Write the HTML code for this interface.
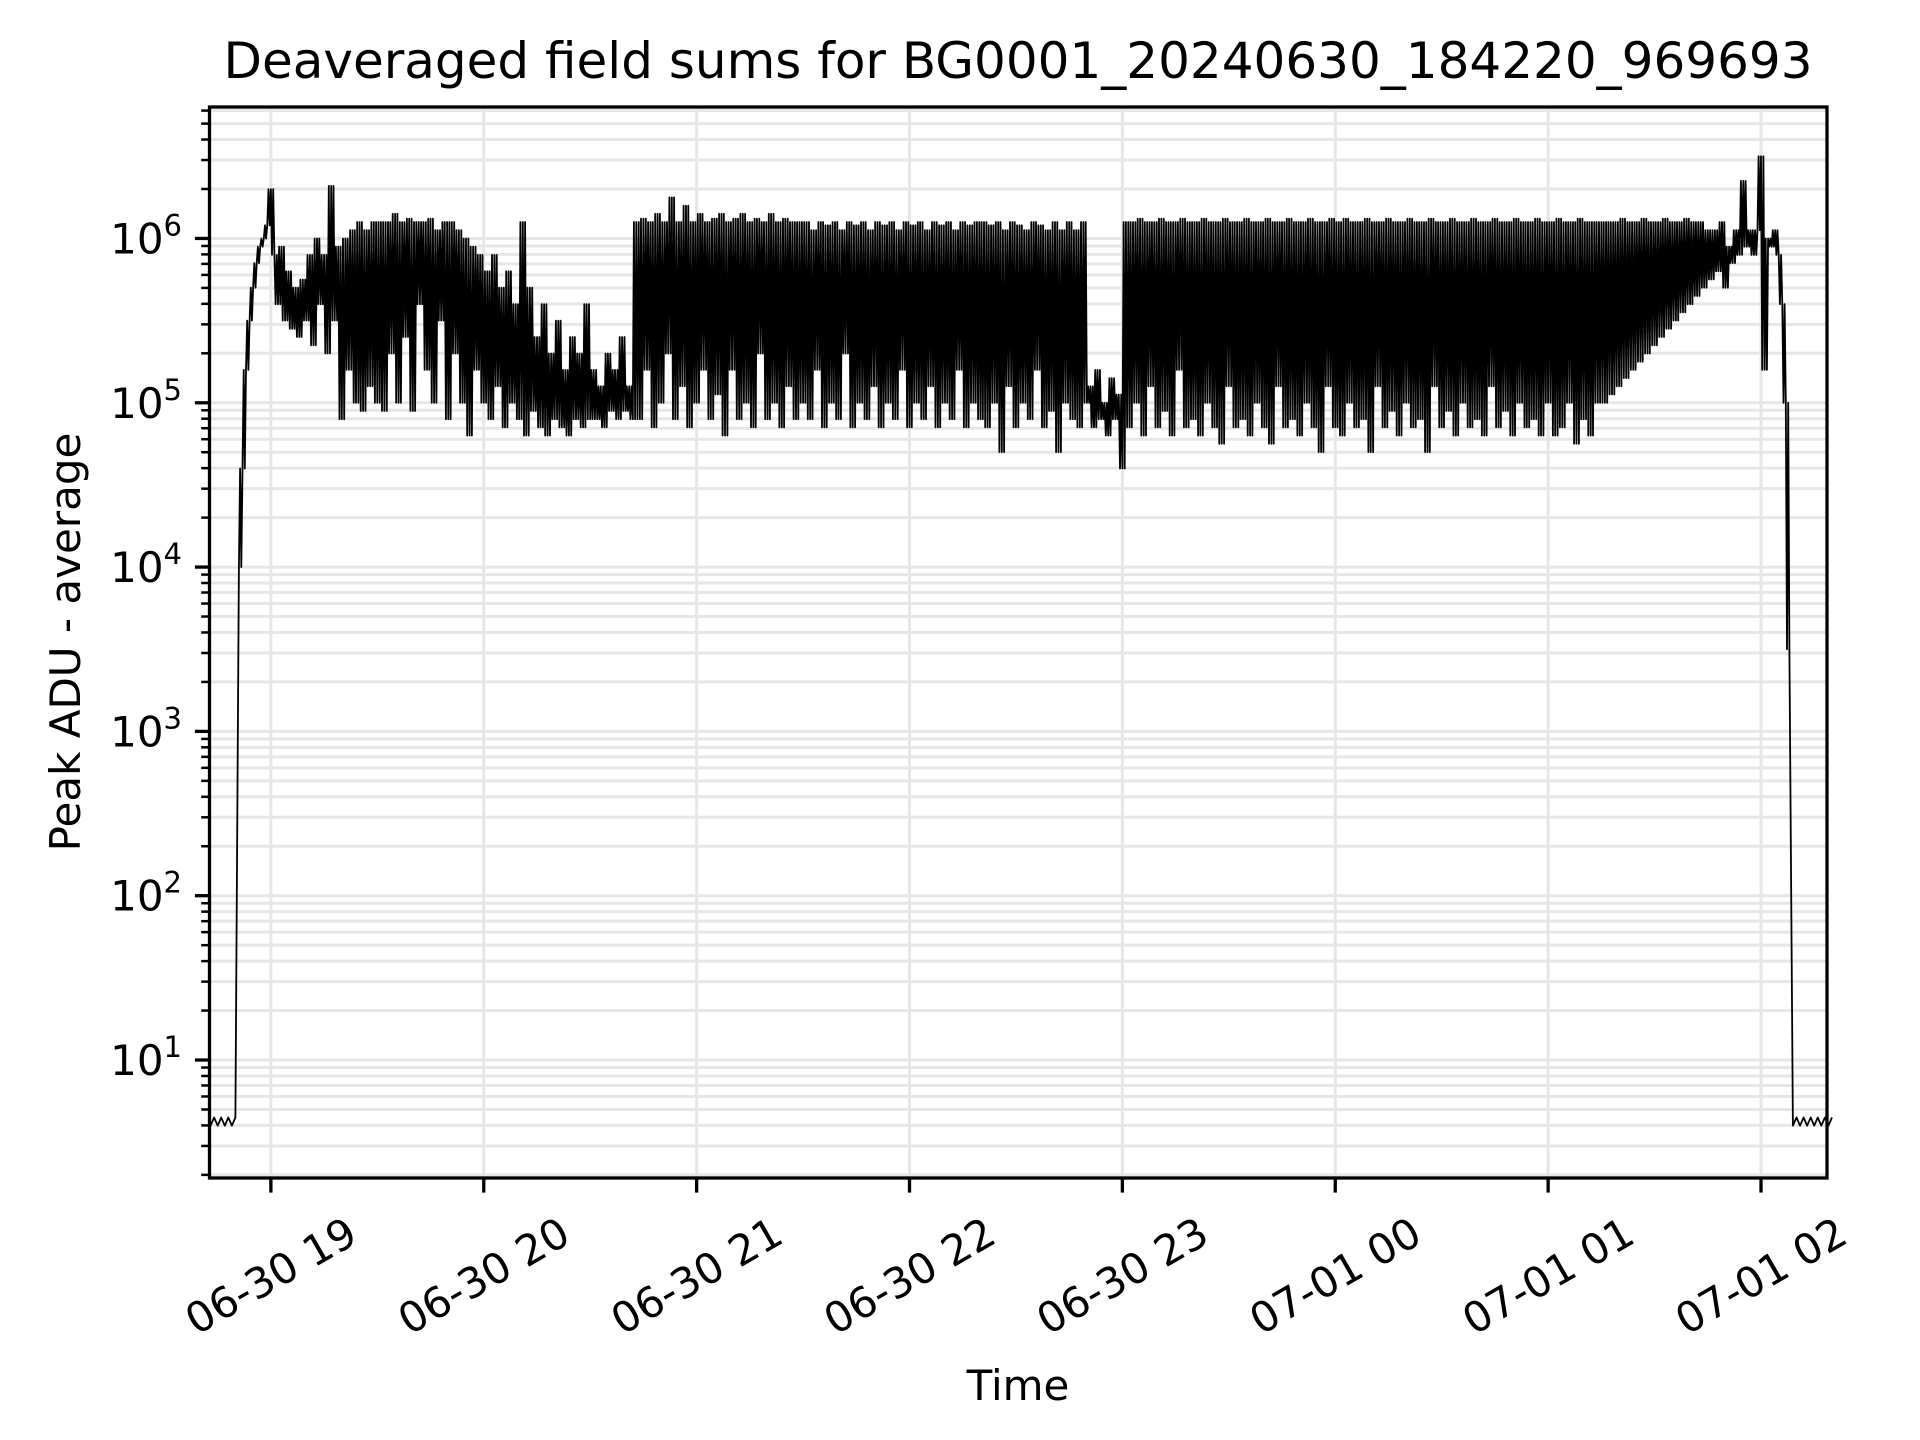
<!DOCTYPE html>
<html><head><meta charset="utf-8"><style>
html,body{margin:0;padding:0;background:#fff;}
svg{display:block;font-family:"DejaVu Sans","Liberation Sans",sans-serif;}
</style></head><body>
<svg id="chart" width="1920" height="1440" viewBox="0 0 1920 1440" xmlns="http://www.w3.org/2000/svg">
<rect x="0" y="0" width="1920" height="1440" fill="#fff"/>
<text x="1018" y="78" font-size="50" text-anchor="middle" fill="#000">Deaveraged field sums for BG0001_20240630_184220_969693</text>
<g id="grid"></g>
<g id="series"></g>
<g id="axes"></g>
<text x="0" y="0" font-size="42" text-anchor="middle" transform="translate(80,642) rotate(-90)">Peak ADU - average</text>
<text x="1018" y="1400" font-size="42" text-anchor="middle">Time</text>
</svg>
<script>
// data (minutes after 18:00; values are log10 of Peak ADU - average)
const xTickMinutes = [60, 120, 180, 240, 300, 360, 420, 480];
const xTickLabels = ["06-30 19", "06-30 20", "06-30 21", "06-30 22", "06-30 23", "07-01 00", "07-01 01", "07-01 02"];
const yTickExps = [1, 2, 3, 4, 5, 6];
const segStarts = [43, 61, 91, 121, 151, 163, 211, 261, 291, 301, 361, 421, 436, 471, 481, 491];
const seg0 = [0.6,0.65,0.6,0.65,0.6,0.65,0.6,0.65,4.0,4.6,5.2,5.5,5.7,5.85,5.95,6.0,6.08,6.3];
const seg1 = [5.9,5.6,5.95,5.5,5.8,5.45,5.7,5.4,5.75,5.5,5.9,5.35,6.0,5.6,5.9,5.3,6.32,5.5,5.95,4.9,6.0,5.2,6.05,5.0,6.1,4.95,6.05,5.1,6.1,5.0];
const seg2 = [6.1,4.95,6.1,5.3,6.15,5.0,6.1,5.4,6.12,4.95,6.1,5.6,6.1,5.2,6.12,5.0,6.05,5.5,6.1,4.9,6.1,5.3,6.05,5.0,6.0,4.8,5.95,5.2,5.9,5.0];
const seg3 = [5.8,4.9,5.9,5.1,5.7,4.85,5.8,5.0,5.6,4.9,6.1,4.8,5.7,4.95,5.4,4.85,5.6,4.8,5.3,4.9,5.5,4.85,5.2,4.8,5.4,4.9,5.3,4.85,5.6,4.9];
const seg4 = [5.2,4.9,5.1,4.85,5.3,4.95,5.2,4.9,5.4,4.95,5.1,4.9];
const seg5 = [6.1,4.9,6.12,5.2,6.1,4.85,6.15,5.0,6.1,5.3,6.25,4.9,6.1,5.1,6.2,4.85,6.1,5.0,6.15,5.2,6.1,4.9,6.12,5.05,6.15,4.8,6.1,5.2,6.12,4.9,6.15,5.0,6.1,4.85,6.12,5.3,6.1,4.9,6.15,5.0,6.1,4.85,6.12,5.1,6.1,4.9,6.1,5.0];
const seg6 = [6.1,4.9,6.05,5.2,6.1,4.85,6.08,5.0,6.1,4.9,6.05,5.3,6.1,4.85,6.08,5.0,6.1,4.9,6.05,5.1,6.1,4.85,6.08,5.0,6.1,4.9,6.05,5.2,6.1,4.85,6.08,5.0,6.1,4.9,6.05,5.1,6.1,4.85,6.08,5.0,6.1,4.9,6.05,5.2,6.1,4.85,6.08,5.0,6.1,4.9];
const seg7 = [6.1,4.85,6.08,5.0,6.1,4.7,6.05,5.1,6.1,4.85,6.08,5.0,6.05,4.9,6.1,5.2,6.08,4.85,6.05,4.95,6.1,4.7,6.05,5.0,6.1,4.9,6.05,4.85,6.1,5.0];
const seg8 = [5.1,4.85,5.2,4.9,5.0,4.8,5.15,4.9,5.05,4.6];
const seg9 = [6.1,4.85,6.1,5.0,6.12,4.8,6.1,5.1,6.1,4.85,6.12,4.95,6.1,4.8,6.1,5.2,6.12,4.85,6.1,4.9,6.1,4.8,6.12,5.0,6.1,4.85,6.1,4.75,6.12,5.1,6.1,4.85,6.1,4.9,6.12,4.8,6.1,5.0,6.1,4.85,6.12,4.75,6.1,5.1,6.1,4.85,6.12,4.9,6.1,4.8,6.1,5.0,6.12,4.85,6.1,4.7,6.1,5.1,6.12,4.85];
const seg10 = [6.1,4.8,6.12,5.0,6.1,4.85,6.1,4.9,6.12,4.7,6.1,5.1,6.1,4.85,6.12,4.95,6.1,4.8,6.1,5.0,6.12,4.85,6.1,4.9,6.1,4.7,6.12,5.1,6.1,4.85,6.1,4.95,6.12,4.8,6.1,5.0,6.1,4.85,6.12,4.9,6.1,4.8,6.1,5.1,6.12,4.85,6.1,4.95,6.1,4.8,6.12,5.0,6.1,4.85,6.1,4.9,6.12,4.8,6.1,5.0];
const seg11 = [6.1,4.8,6.12,4.85,6.1,5.0,6.1,4.75,6.12,4.9,6.1,4.8,6.1,5.0,6.1];
const seg12 = [5.0,6.1,5.05,6.1,5.1,6.12,5.15,6.1,5.2,6.1,5.25,6.12,5.3,6.1,5.35,6.1,5.4,6.12,5.45,6.1,5.5,6.1,5.55,6.12,5.6,6.1,5.65,6.1,5.7,6.05,5.75,6.05,5.8,6.1,5.7];
const seg13 = [5.95,5.85,6.05,5.9,6.35,5.95,6.05,5.9,6.05,6.5];
const seg14 = [5.2,6.0,5.95,6.05,5.9,5.6,5.0,3.5,0.6,0.65];
const seg15 = [0.6,0.65,0.6,0.65,0.6,0.65,0.6,0.65,0.6,0.65];
const segVals = [seg0,seg1,seg2,seg3,seg4,seg5,seg6,seg7,seg8,seg9,seg10,seg11,seg12,seg13,seg14,seg15];

const NS = "http://www.w3.org/2000/svg";
const L = 209.5, R = 1827, T = 107, B = 1178;
const xMin = 42.7, xMax = 498.6, yMin = 0.282, yMax = 6.80;
function xs(m){ return L + (m - xMin) / (xMax - xMin) * (R - L); }
function ys(lv){ return B - (lv - yMin) / (yMax - yMin) * (B - T); }
function mk(tag, attrs, parent){ const e = document.createElementNS(NS, tag); for (const k in attrs) e.setAttribute(k, attrs[k]); parent.appendChild(e); return e; }
const grid = document.getElementById('grid'), axes = document.getElementById('axes'), series = document.getElementById('series');

for (let k = 0; k <= 6; k++) {
  for (let m = 1; m <= 9; m++) {
    const lv = k + Math.log10(m);
    if (lv < yMin || lv > yMax) continue;
    const y = ys(lv);
    const g = mk('line', {x1: L, x2: R, y1: y, y2: y, stroke: '#e6e6e6', 'stroke-width': 3}, grid);
    
    
    const t = mk('line', {x1: L - (m === 1 ? 14.6 : 8.3), x2: L, y1: y, y2: y, stroke: '#000', 'stroke-width': m === 1 ? 3.3 : 2.5}, axes);
    
    
  }
}
xTickMinutes.forEach((mm, i) => {
  const x = xs(mm);
  const g = mk('line', {x1: x, x2: x, y1: T, y2: B, stroke: '#e6e6e6', 'stroke-width': 3}, grid);
  
  
  const t = mk('line', {x1: x, x2: x, y1: B, y2: B + 14.6, stroke: '#000', 'stroke-width': 3.3}, axes);
  
  
  const lb = mk('text', {x: 0, y: 0, 'font-size': 42, 'text-anchor': 'middle', 'dominant-baseline': 'central', transform: 'translate(' + x + ',1276) rotate(-30)'}, axes);
  lb.textContent = xTickLabels[i];
  
  
});
yTickExps.forEach(e => {
  const y = ys(e);
  const lb = mk('text', {x: 182, y: y + 15, 'font-size': 42, 'text-anchor': 'end'}, axes);
  
  
  const a = document.createElementNS(NS, 'tspan'); a.textContent = '10'; lb.appendChild(a);
  const b = document.createElementNS(NS, 'tspan'); b.setAttribute('dy', '-18'); b.setAttribute('font-size', '29'); b.textContent = String(e); lb.appendChild(b);
});
const sp = mk('rect', {x: L, y: T, width: R - L, height: B - T, fill: 'none', stroke: '#000', 'stroke-width': 3.3}, axes);



// series: flatten, then draw each minute as rapid alternation between its reading and the next
let ts = [], vs = [];
segVals.forEach((vals, si) => { vals.forEach((v, j) => { ts.push(segStarts[si] + j); vs.push(v); }); });
let pts = [];
for (let i = 0; i < ts.length; i++) {
  pts.push(xs(ts[i]).toFixed(1) + ',' + ys(vs[i]).toFixed(1));
  if (i + 1 < ts.length && ts[i + 1] - ts[i] === 1 && vs[i] > 3 && vs[i + 1] > 3) {
    pts.push(xs(ts[i] + 0.33).toFixed(1) + ',' + ys(vs[i + 1]).toFixed(1));
    pts.push(xs(ts[i] + 0.66).toFixed(1) + ',' + ys(vs[i]).toFixed(1));
  }
}
const line = mk('polyline', {points: pts.join(' '), fill: 'none', stroke: '#000', 'stroke-width': 1.8, 'stroke-linejoin': 'round'}, series);


</script>
</body></html>
